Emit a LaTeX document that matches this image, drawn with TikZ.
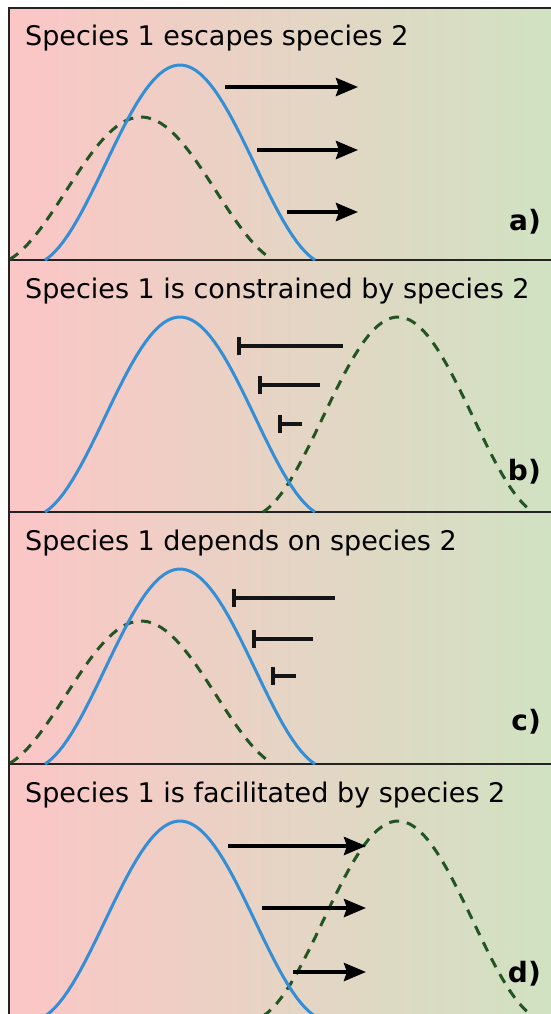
\documentclass[tikz,border=0pt]{standalone}
\usepackage{fontspec}
\setmainfont{DejaVu Sans}
\usetikzlibrary{arrows.meta}
\definecolor{bgpink}{RGB}{252,198,198}
\definecolor{bggreen}{RGB}{208,226,194}
\definecolor{spblue}{RGB}{52,142,214}
\definecolor{spgreen}{RGB}{34,84,36}
\definecolor{frameline}{RGB}{35,35,35}

\begin{document}
\begin{tikzpicture}[x=1pt, y=-1pt,
    title/.style={anchor=base west, inner sep=0pt, font=\fontsize{27}{32}\selectfont},
    tag/.style={anchor=base east, inner sep=0pt, font=\fontsize{28}{32}\selectfont\bfseries},
    sp1/.style={draw=spblue, line width=3pt},
    sp2/.style={draw=spgreen, line width=3pt, dash pattern=on 10pt off 8pt},
    push/.style={-{Stealth[length=22pt, width=18pt, inset=3pt]}, line width=4pt},
    block/.style={{Bar[width=18pt]}-, line width=3.6pt, draw=black!92}
]
\useasboundingbox (0,0) rectangle (551,1014);
\shade[left color=bgpink, right color=bggreen] (9,8) rectangle (551,1014);
\draw[frameline, line width=2pt] (551,8) -- (9,8) -- (9,1014);
\foreach \y in {260,512,764}
    \draw[frameline, line width=2pt] (9,\y) -- (551,\y);

% a) escapes
\begin{scope}[shift={(0,8)}]
\node[title] (ta) at (25,38) {Species 1 escapes species 2};
\node[tag] (la) at (541,222) {a)};
\draw[sp2] plot[domain=-131:131, samples=60] ({141+\x}, {257-148*(1+cos(1.2*\x))/2});
\draw[sp1] plot[domain=-135:135, samples=60] ({180+\x}, {257-200*(1+cos(1.2*\x))/2});
\foreach \i/\yy/\xs in {1/79/225, 2/142/257, 3/204/287} {
    \coordinate (a\i s) at (\xs,\yy);
    \coordinate (a\i e) at (358,\yy);
    \draw[push] (a\i s) -- (a\i e);
}
\end{scope}

% b) constrained
\begin{scope}[shift={(0,260)}]
\node[title] (tb) at (25,38) {Species 1 is constrained by species 2};
\node[tag] (lb) at (541,220) {b)};
\draw[sp2] plot[domain=-135:135, samples=60] ({398+\x}, {257-200*(1+cos(1.2*\x))/2});
\draw[sp1] plot[domain=-135:135, samples=60] ({180+\x}, {257-200*(1+cos(1.2*\x))/2});
\foreach \i/\yy/\xs/\xe in {1/86/237/343, 2/125/258/320, 3/164/278/302} {
    \coordinate (b\i s) at (\xs,\yy);
    \coordinate (b\i e) at (\xe,\yy);
    \draw[block] (b\i s) -- (b\i e);
}
\end{scope}

% c) depends
\begin{scope}[shift={(0,512)}]
\node[title] (tc) at (25,38) {Species 1 depends on species 2};
\node[tag] (lc) at (541,218) {c)};
\draw[sp2] plot[domain=-131:131, samples=60] ({141+\x}, {257-148*(1+cos(1.2*\x))/2});
\draw[sp1] plot[domain=-135:135, samples=60] ({180+\x}, {257-200*(1+cos(1.2*\x))/2});
\foreach \i/\yy/\xs/\xe in {1/86/232/335, 2/127/252/313, 3/164/271/296} {
    \coordinate (c\i s) at (\xs,\yy);
    \coordinate (c\i e) at (\xe,\yy);
    \draw[block] (c\i s) -- (c\i e);
}
\end{scope}

% d) facilitated
\begin{scope}[shift={(0,764)}]
\node[title] (td) at (25,38) {Species 1 is facilitated by species 2};
\node[tag] (ld) at (541,218) {d)};
\draw[sp2] plot[domain=-135:135, samples=60] ({398+\x}, {257-200*(1+cos(1.2*\x))/2});
\draw[sp1] plot[domain=-135:135, samples=60] ({180+\x}, {257-200*(1+cos(1.2*\x))/2});
\foreach \i/\yy/\xs in {1/82/228, 2/144/262, 3/208/293} {
    \coordinate (d\i s) at (\xs,\yy);
    \coordinate (d\i e) at (366,\yy);
    \draw[push] (d\i s) -- (d\i e);
}
\end{scope}
\end{tikzpicture}
\end{document}
